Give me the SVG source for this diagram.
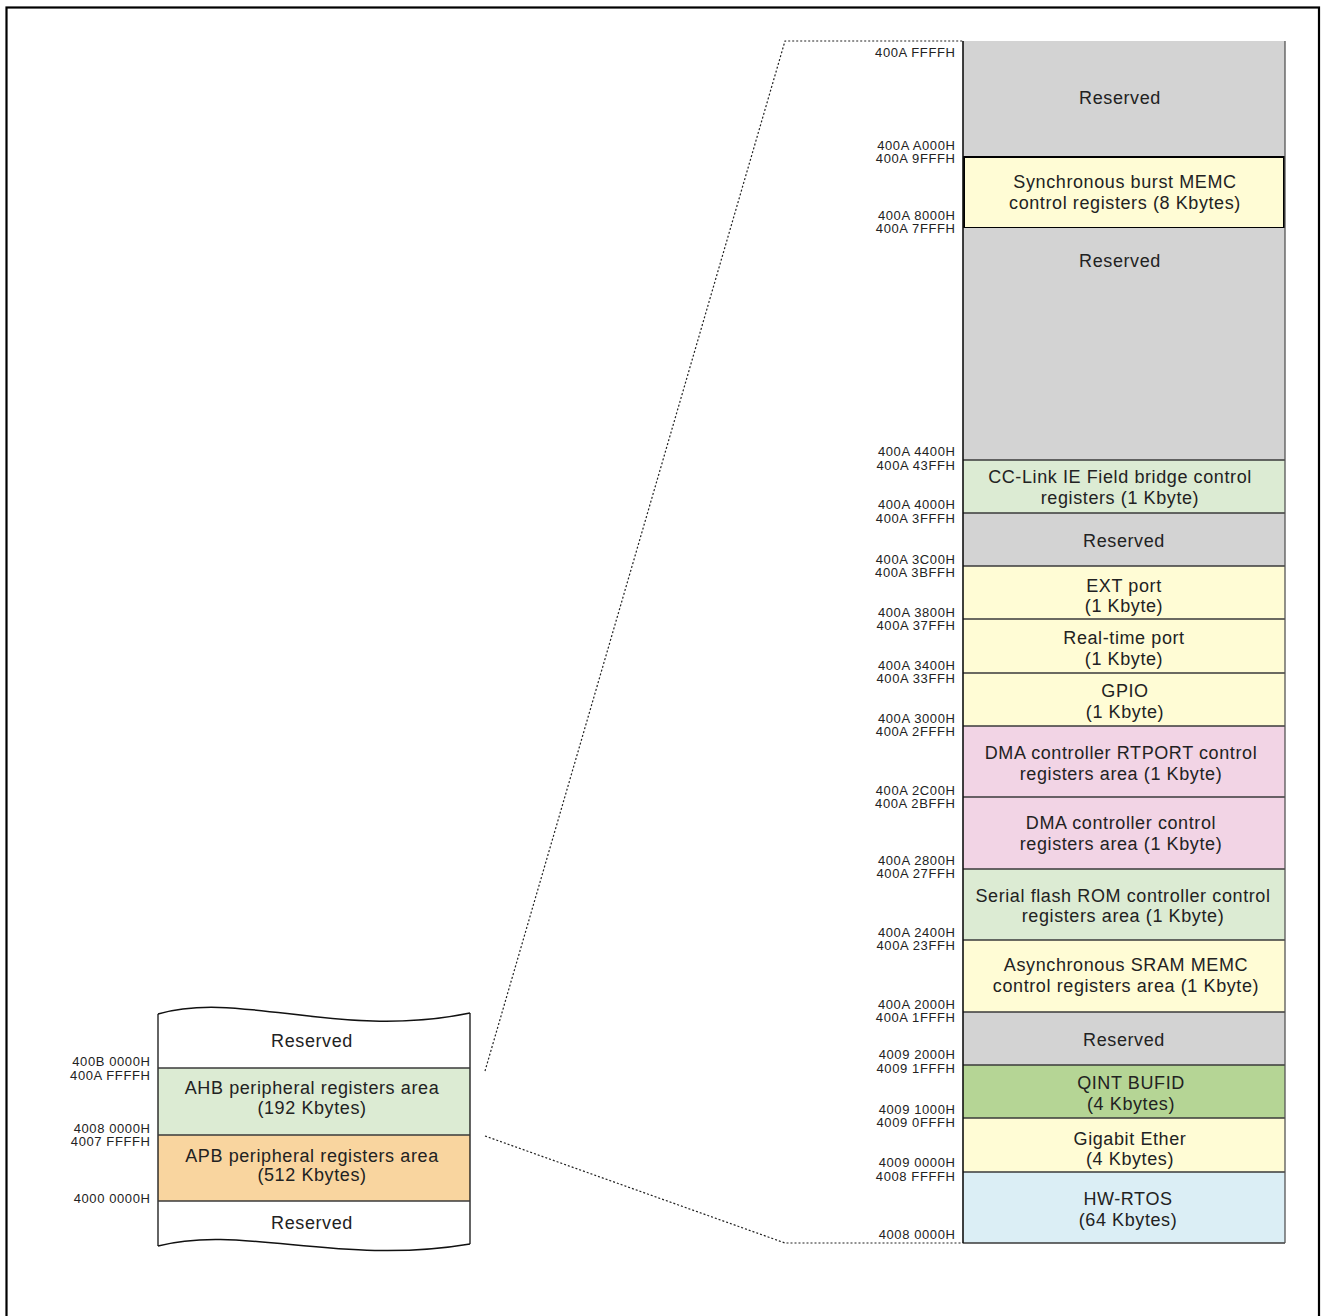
<svg xmlns="http://www.w3.org/2000/svg" width="1322" height="1316" viewBox="0 0 1322 1316">
  <style>
    .lbl { font-family: "Liberation Sans", Arial, sans-serif; font-size: 18px; letter-spacing: 0.6px; text-anchor: middle; fill: #222; }
    .addr { font-family: "Liberation Sans", Arial, sans-serif; font-size: 13px; letter-spacing: 0.6px; text-anchor: end; fill: #222; }
    .div { stroke: #3a3a3a; stroke-width: 1.3; fill: none; }
    .dot { stroke: #222; stroke-width: 1.2; stroke-dasharray: 2 2; fill: none; }
    .rsv { fill: #d3d3d3; }
    .yel { fill: #fffcd5; }
    .grn { fill: #dcebd3; }
    .pnk { fill: #f2d4e5; }
    .dgr { fill: #b5d595; }
    .blu { fill: #dbeef5; }
    .org { fill: #f9d59f; }
  </style>

  <rect width="1322" height="1316" fill="#ffffff"/>
  <!-- outer frame -->
  <rect x="6.5" y="7.5" width="1312.5" height="1320" fill="none" stroke="#000" stroke-width="2.2"/>

  <!-- overall peripheral map (left) -->
  <g id="overview">
    <path d="M158,1014 C240,990 340,1040 470,1013 L470,1244 C340,1266 240,1224 158,1246 Z" fill="#fff"/>
    <rect class="grn" x="158" y="1068" width="312" height="67"/>
    <rect class="org" x="158" y="1135" width="312" height="66"/>
    <path d="M158,1014 C240,990 340,1040 470,1013" fill="none" stroke="#111" stroke-width="1.5"/>
    <path d="M158,1246 C240,1224 340,1266 470,1244" fill="none" stroke="#111" stroke-width="1.5"/>
    <line x1="158" y1="1014" x2="158" y2="1246" stroke="#111" stroke-width="1.3"/>
    <line x1="470" y1="1013" x2="470" y2="1244" stroke="#111" stroke-width="1.3"/>
    <line class="div" x1="158" y1="1068" x2="470" y2="1068"/>
    <line class="div" x1="158" y1="1135" x2="470" y2="1135"/>
    <line class="div" x1="158" y1="1201" x2="470" y2="1201"/>
    <text class="lbl" x="312" y="1047">Reserved</text>
    <text class="lbl" x="312" y="1094">AHB peripheral registers area</text>
    <text class="lbl" x="312" y="1114">(192 Kbytes)</text>
    <text class="lbl" x="312" y="1162">APB peripheral registers area</text>
    <text class="lbl" x="312" y="1181">(512 Kbytes)</text>
    <text class="lbl" x="312" y="1229">Reserved</text>
    <text class="addr" x="150.5" y="1066">400B 0000H</text>
    <text class="addr" x="150.5" y="1080">400A FFFFH</text>
    <text class="addr" x="150.5" y="1133">4008 0000H</text>
    <text class="addr" x="150.5" y="1146">4007 FFFFH</text>
    <text class="addr" x="150.5" y="1203">4000 0000H</text>
  </g>

  <!-- zoom-out guides from the AHB area to the detailed map -->
  <g id="connectors">
    <polyline class="dot" points="485,1071 785,41 963,41"/>
    <polyline class="dot" points="485,1136 785,1243 963,1243"/>
  </g>

  <!-- AHB peripheral map detail (right) -->
  <g id="ahb-map">
    <g id="r-reserved-1"><rect class="rsv" x="963" y="41" width="322" height="116"/>
      <text class="lbl" x="1120" y="104">Reserved</text></g>
    <g id="r-sync-memc"><rect class="yel" x="964" y="157" width="320" height="71" stroke="#000" stroke-width="2"/>
      <text class="lbl" x="1125" y="188">Synchronous burst MEMC</text>
      <text class="lbl" x="1125" y="209">control registers (8 Kbytes)</text></g>
    <g id="r-reserved-2"><rect class="rsv" x="963" y="228" width="322" height="232"/>
      <text class="lbl" x="1120" y="267">Reserved</text></g>
    <g id="r-cclink"><rect class="grn" x="963" y="460" width="322" height="53"/>
      <text class="lbl" x="1120" y="483">CC-Link IE Field bridge control</text>
      <text class="lbl" x="1120" y="504">registers (1 Kbyte)</text></g>
    <g id="r-reserved-3"><rect class="rsv" x="963" y="513" width="322" height="53"/>
      <text class="lbl" x="1124" y="547">Reserved</text></g>
    <g id="r-ext-port"><rect class="yel" x="963" y="566" width="322" height="53"/>
      <text class="lbl" x="1124" y="592">EXT port</text>
      <text class="lbl" x="1124" y="612">(1 Kbyte)</text></g>
    <g id="r-rt-port"><rect class="yel" x="963" y="619" width="322" height="54"/>
      <text class="lbl" x="1124" y="644">Real-time port</text>
      <text class="lbl" x="1124" y="665">(1 Kbyte)</text></g>
    <g id="r-gpio"><rect class="yel" x="963" y="673" width="322" height="53"/>
      <text class="lbl" x="1125" y="697">GPIO</text>
      <text class="lbl" x="1125" y="718">(1 Kbyte)</text></g>
    <g id="r-dma-rtport"><rect class="pnk" x="963" y="726" width="322" height="71"/>
      <text class="lbl" x="1121" y="759">DMA controller RTPORT control</text>
      <text class="lbl" x="1121" y="780">registers area (1 Kbyte)</text></g>
    <g id="r-dma"><rect class="pnk" x="963" y="797" width="322" height="72"/>
      <text class="lbl" x="1121" y="829">DMA controller control</text>
      <text class="lbl" x="1121" y="850">registers area (1 Kbyte)</text></g>
    <g id="r-sflash"><rect class="grn" x="963" y="869" width="322" height="71"/>
      <text class="lbl" x="1123" y="902">Serial flash ROM controller control</text>
      <text class="lbl" x="1123" y="922">registers area (1 Kbyte)</text></g>
    <g id="r-async-memc"><rect class="yel" x="963" y="940" width="322" height="72"/>
      <text class="lbl" x="1126" y="971">Asynchronous SRAM MEMC</text>
      <text class="lbl" x="1126" y="992">control registers area (1 Kbyte)</text></g>
    <g id="r-reserved-4"><rect class="rsv" x="963" y="1012" width="322" height="53"/>
      <text class="lbl" x="1124" y="1046">Reserved</text></g>
    <g id="r-qint"><rect class="dgr" x="963" y="1065" width="322" height="53"/>
      <text class="lbl" x="1131" y="1089">QINT BUFID</text>
      <text class="lbl" x="1131" y="1110">(4 Kbytes)</text></g>
    <g id="r-gbe"><rect class="yel" x="963" y="1118" width="322" height="54"/>
      <text class="lbl" x="1130" y="1145">Gigabit Ether</text>
      <text class="lbl" x="1130" y="1165">(4 Kbytes)</text></g>
    <g id="r-hwrtos"><rect class="blu" x="963" y="1172" width="322" height="71"/>
      <text class="lbl" x="1128" y="1205">HW-RTOS</text>
      <text class="lbl" x="1128" y="1226">(64 Kbytes)</text></g>

    <!-- region boundaries -->
    <g id="grid">
      <line class="div" x1="963" y1="460" x2="1285" y2="460"/>
      <line class="div" x1="963" y1="513" x2="1285" y2="513"/>
      <line class="div" x1="963" y1="566" x2="1285" y2="566"/>
      <line class="div" x1="963" y1="619" x2="1285" y2="619"/>
      <line class="div" x1="963" y1="673" x2="1285" y2="673"/>
      <line class="div" x1="963" y1="726" x2="1285" y2="726"/>
      <line class="div" x1="963" y1="797" x2="1285" y2="797"/>
      <line class="div" x1="963" y1="869" x2="1285" y2="869"/>
      <line class="div" x1="963" y1="940" x2="1285" y2="940"/>
      <line class="div" x1="963" y1="1012" x2="1285" y2="1012"/>
      <line class="div" x1="963" y1="1065" x2="1285" y2="1065"/>
      <line class="div" x1="963" y1="1118" x2="1285" y2="1118"/>
      <line class="div" x1="963" y1="1172" x2="1285" y2="1172"/>
      <line class="div" x1="963" y1="1243" x2="1285" y2="1243"/>
      <line x1="963" y1="41" x2="963" y2="1243" stroke="#111" stroke-width="1.6"/>
      <line x1="1285" y1="41" x2="1285" y2="1243" stroke="#555" stroke-width="1.3"/>
    </g>

    <!-- boundary addresses -->
    <g id="addresses">
      <text class="addr" x="955.5" y="57">400A FFFFH</text>
      <text class="addr" x="955.5" y="150">400A A000H</text>
      <text class="addr" x="955.5" y="163">400A 9FFFH</text>
      <text class="addr" x="955.5" y="220">400A 8000H</text>
      <text class="addr" x="955.5" y="233">400A 7FFFH</text>
      <text class="addr" x="955.5" y="456">400A 4400H</text>
      <text class="addr" x="955.5" y="470">400A 43FFH</text>
      <text class="addr" x="955.5" y="509">400A 4000H</text>
      <text class="addr" x="955.5" y="523">400A 3FFFH</text>
      <text class="addr" x="955.5" y="564">400A 3C00H</text>
      <text class="addr" x="955.5" y="577">400A 3BFFH</text>
      <text class="addr" x="955.5" y="617">400A 3800H</text>
      <text class="addr" x="955.5" y="630">400A 37FFH</text>
      <text class="addr" x="955.5" y="670">400A 3400H</text>
      <text class="addr" x="955.5" y="683">400A 33FFH</text>
      <text class="addr" x="955.5" y="723">400A 3000H</text>
      <text class="addr" x="955.5" y="736">400A 2FFFH</text>
      <text class="addr" x="955.5" y="795">400A 2C00H</text>
      <text class="addr" x="955.5" y="808">400A 2BFFH</text>
      <text class="addr" x="955.5" y="865">400A 2800H</text>
      <text class="addr" x="955.5" y="878">400A 27FFH</text>
      <text class="addr" x="955.5" y="937">400A 2400H</text>
      <text class="addr" x="955.5" y="950">400A 23FFH</text>
      <text class="addr" x="955.5" y="1009">400A 2000H</text>
      <text class="addr" x="955.5" y="1022">400A 1FFFH</text>
      <text class="addr" x="955.5" y="1059">4009 2000H</text>
      <text class="addr" x="955.5" y="1073">4009 1FFFH</text>
      <text class="addr" x="955.5" y="1114">4009 1000H</text>
      <text class="addr" x="955.5" y="1127">4009 0FFFH</text>
      <text class="addr" x="955.5" y="1167">4009 0000H</text>
      <text class="addr" x="955.5" y="1181">4008 FFFFH</text>
      <text class="addr" x="955.5" y="1239">4008 0000H</text>
    </g>
  </g>
</svg>
